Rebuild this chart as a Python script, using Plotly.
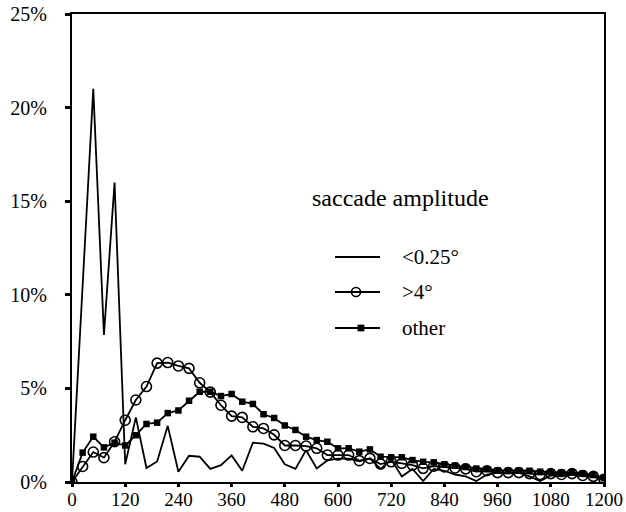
import plotly.graph_objects as go

# fixation duration bins (ms)
bins = [0, 24, 48, 72, 96, 120, 144, 168, 192, 216, 240, 264, 288, 312, 336, 360,
        384, 408, 432, 456, 480, 504, 528, 552, 576, 600, 624, 648, 672, 696, 720,
        744, 768, 792, 816, 840, 864, 888, 912, 936, 960, 984, 1008, 1032, 1056,
        1080, 1104, 1128, 1152, 1176, 1200]

# percentages per saccade amplitude class
small_amp = [0, 10.5, 21.0, 7.85, 16.0, 0.95, 3.45, 0.75, 1.1, 3.0, 0.55, 1.4, 1.35,
             0.7, 0.9, 1.42, 0.6, 2.1, 2.05, 1.82, 0.95, 0.7, 1.7, 0.72, 1.15, 1.25,
             1.25, 1.1, 1.25, 0.7, 1.2, 0.3, 0.7, 0.05, 0.7, 0.6, 0.4, 0.3, 0.05, 0.4,
             0.5, 0.45, 0.5, 0.3, 0.05, 0.35, 0.3, 0.4, 0.3, 0.3, 0.1]
large_amp = [0, 0.83, 1.6, 1.3, 2.15, 3.3, 4.38, 5.1, 6.35, 6.38, 6.2, 6.07, 5.3, 4.8,
             4.1, 3.52, 3.45, 2.95, 2.86, 2.52, 1.95, 1.95, 1.92, 1.8, 1.44, 1.44, 1.44,
             1.14, 1.26, 0.96, 1.08, 1.0, 0.9, 0.73, 0.85, 0.8, 0.75, 0.7, 0.55, 0.6,
             0.5, 0.5, 0.5, 0.45, 0.4, 0.45, 0.4, 0.45, 0.35, 0.3, 0.15]
other_amp = [0, 1.57, 2.42, 1.85, 2.1, 1.95, 2.5, 3.1, 3.17, 3.68, 3.82, 4.34, 4.82,
             4.82, 4.59, 4.7, 4.29, 4.17, 3.62, 3.42, 3.02, 2.78, 2.42, 2.24, 2.15, 1.8,
             1.8, 1.62, 1.74, 1.35, 1.32, 1.32, 1.17, 1.08, 1.05, 0.95, 0.88, 0.8, 0.72,
             0.68, 0.62, 0.6, 0.6, 0.6, 0.55, 0.52, 0.5, 0.52, 0.45, 0.37, 0.2]

x_ticks = [0, 120, 240, 360, 480, 600, 720, 840, 960, 1080, 1200]
y_ticks = [0, 5, 10, 15, 20, 25]

legend_title = "saccade amplitude"
legend_labels = ["<0.25°", ">4°", "other"]

W, H = 626, 512
ML, MR, MT, MB = 72, 22, 14, 30
PW, PH = W - ML - MR, H - MT - MB

def px(xp):
    return (xp - ML) / PW

def py(yp):
    return (H - MB - yp) / PH

FONT = "Liberation Serif, Times New Roman, serif"

fig = go.Figure()
fig.add_trace(go.Scatter(x=bins, y=small_amp, mode="lines",
                         line=dict(color="black", width=1.8), name=legend_labels[0]))
fig.add_trace(go.Scatter(x=bins, y=large_amp, mode="lines+markers",
                         line=dict(color="black", width=1.8),
                         marker=dict(symbol="circle-open", size=10, color="black",
                                     line=dict(width=1.6, color="black")),
                         name=legend_labels[1]))
fig.add_trace(go.Scatter(x=bins, y=other_amp, mode="lines+markers",
                         line=dict(color="black", width=1.8),
                         marker=dict(symbol="square", size=6.5, color="black"),
                         name=legend_labels[2]))

# manual legend
annotations = [dict(text=legend_title, x=px(310), y=py(198), xref="paper", yref="paper",
                    xanchor="left", yanchor="middle", showarrow=False,
                    font=dict(family=FONT, size=24, color="black"))]
shapes = []
item_y = [257, 292, 328]
for lab, yy in zip(legend_labels, item_y):
    annotations.append(dict(text=lab, x=px(400), y=py(yy), xref="paper", yref="paper",
                            xanchor="left", yanchor="middle", showarrow=False,
                            font=dict(family=FONT, size=21, color="black")))
    shapes.append(dict(type="line", xref="paper", yref="paper",
                       x0=px(335), x1=px(380), y0=py(yy), y1=py(yy),
                       line=dict(color="black", width=1.8)))
# sample markers
r = 4.5
shapes.append(dict(type="circle", xref="paper", yref="paper",
                   x0=px(356 - r), x1=px(356 + r), y0=py(item_y[1] + r), y1=py(item_y[1] - r),
                   line=dict(color="black", width=1.6), fillcolor="rgba(0,0,0,0)"))
s = 3.4
shapes.append(dict(type="rect", xref="paper", yref="paper",
                   x0=px(361 - s), x1=px(361 + s), y0=py(item_y[2] + s), y1=py(item_y[2] - s),
                   line=dict(color="black", width=0), fillcolor="black"))

fig.update_layout(
    width=W, height=H,
    margin=dict(l=ML, r=MR, t=MT, b=MB, pad=0),
    paper_bgcolor="white", plot_bgcolor="white",
    showlegend=False,
    font=dict(family=FONT, size=20, color="black"),
    annotations=annotations, shapes=shapes,
)
fig.update_xaxes(range=[0, 1200], tickvals=x_ticks, ticktext=[str(v) for v in x_ticks],
                 showgrid=False, zeroline=False, showline=True, mirror=True,
                 linecolor="black", linewidth=2, ticks="outside", ticklen=3, tickwidth=2.5,
                 tickcolor="black", tickfont=dict(family=FONT, size=19, color="black"),
                 ticklabelstandoff=-4, automargin=False)
fig.update_yaxes(range=[0, 25], tickvals=y_ticks, ticktext=[f"{v}%" for v in y_ticks],
                 showgrid=False, zeroline=False, showline=True, mirror=True,
                 linecolor="black", linewidth=2, ticks="outside", ticklen=5, tickwidth=2.5,
                 tickcolor="black", tickfont=dict(family=FONT, size=20, color="black"),
                 ticklabelstandoff=14, automargin=False)

fig.write_html("out.html")
